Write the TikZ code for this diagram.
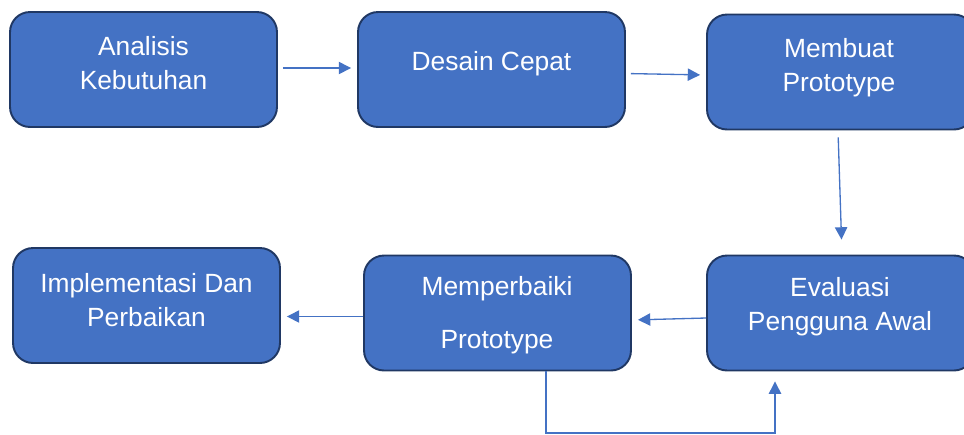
\documentclass[tikz,border=0pt]{standalone}
\usepackage{fontspec}
\setmainfont{Liberation Sans}
\usetikzlibrary{arrows.meta}
\definecolor{boxblue}{HTML}{4472C4}
\definecolor{boxline}{HTML}{203864}

\begin{document}
\begin{tikzpicture}[x=0.02cm,y=-0.02cm,
  box/.style={rectangle,rounded corners=0.4cm,draw=boxline,line width=1.1pt,
    fill=boxblue,minimum width=5.34cm,minimum height=2.3cm,inner sep=0pt},
  txt/.style={text=white,align=center,font=\fontsize{15}{19.3}\selectfont},
  arr/.style={-{Triangle[length=7pt,width=7pt]},draw=boxblue,line width=0.75pt,
    shorten <=0.1cm,shorten >=0.12cm}]
\clip (0,0) rectangle (964,434);
% top row
\node[box] (analisis) at (143.5,69.5) {};
\node[box] (desain) at (491.5,69.5) {};
\node[box] (membuat) at (840.5,72) {};
% bottom row
\node[box] (implementasi) at (146.5,305.5) {};
\node[box] (memperbaiki) at (497.5,313) {};
\node[box] (evaluasi) at (840.5,313) {};
% labels
\node[txt] (analisis-t) at (143.5,63.5) {Analisis\\Kebutuhan};
\node[txt] (desain-t) at (491.5,64) {Desain Cepat};
\node[txt] (membuat-t) at (839,68) {Membuat\\Prototype};
\node[txt] (implementasi-t) at (146.5,300.5) {Implementasi Dan\\Perbaikan};
\node[txt] (memperbaiki-t) at (497,315) {Memperbaiki\\[11pt]Prototype};
\node[txt] (evaluasi-t) at (840,306.5) {Evaluasi\\Pengguna Awal};
% flow
\draw[arr] ([yshift=0.03cm]analisis.east) -- ([yshift=0.03cm]desain.west);
\draw[arr] ([yshift=-0.08cm]desain.east) -- ([yshift=-0.06cm]membuat.west);
\draw[arr,shorten <=0.14cm,shorten >=0.3cm] ([xshift=-0.05cm]membuat.south) -- ([xshift=0.03cm]evaluasi.north);
\draw[arr,shorten <=0pt] ([yshift=-0.1cm]evaluasi.west) -- ([yshift=-0.14cm]memperbaiki.west -| memperbaiki.east);
\draw[arr,shorten <=0pt] ([yshift=-0.07cm]memperbaiki.west) -- ([yshift=-0.07cm]memperbaiki.west -| implementasi.east);
% feedback loop
\coordinate (loopL) at (546,433);
\coordinate (loopR) at (775,433);
\draw[arr,shorten <=0pt,shorten >=0.2cm] (memperbaiki.south -| loopL) -- (loopL) -- (loopR) -- (evaluasi.south -| loopR);
\end{tikzpicture}
\end{document}
